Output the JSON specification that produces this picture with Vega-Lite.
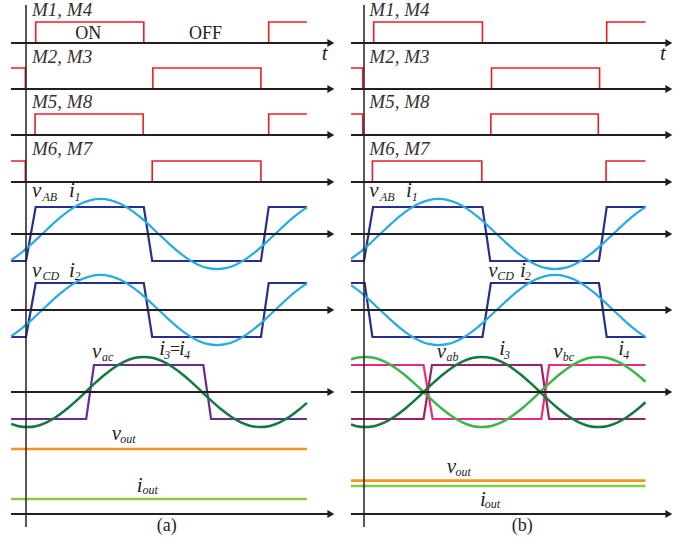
{
"$schema":"https://vega.github.io/schema/vega-lite/v6.json",
"background":"white","padding":0,"spacing":0,
"config":{"view":{"stroke":null}},
"datasets":{
"gates":[
{"p":"a","s":"M14","t":-23,"v":0},{"p":"a","s":"M14","t":15,"v":1},{"p":"a","s":"M14","t":182,"v":0},{"p":"a","s":"M14","t":375,"v":1},{"p":"a","s":"M14","t":434,"v":1},
{"p":"a","s":"M23","t":-23,"v":1},{"p":"a","s":"M23","t":-1,"v":0},{"p":"a","s":"M23","t":196,"v":1},{"p":"a","s":"M23","t":363,"v":0},{"p":"a","s":"M23","t":434,"v":0},
{"p":"a","s":"M58","t":-23,"v":0},{"p":"a","s":"M58","t":14,"v":1},{"p":"a","s":"M58","t":181,"v":0},{"p":"a","s":"M58","t":375,"v":1},{"p":"a","s":"M58","t":434,"v":1},
{"p":"a","s":"M67","t":-23,"v":1},{"p":"a","s":"M67","t":-1,"v":0},{"p":"a","s":"M67","t":195,"v":1},{"p":"a","s":"M67","t":363,"v":0},{"p":"a","s":"M67","t":434,"v":0},
{"p":"b","s":"M14","t":-20,"v":0},{"p":"b","s":"M14","t":15,"v":1},{"p":"b","s":"M14","t":183,"v":0},{"p":"b","s":"M14","t":375,"v":1},{"p":"b","s":"M14","t":435,"v":1},
{"p":"b","s":"M23","t":-20,"v":1},{"p":"b","s":"M23","t":-2,"v":0},{"p":"b","s":"M23","t":197,"v":1},{"p":"b","s":"M23","t":364,"v":0},{"p":"b","s":"M23","t":435,"v":0},
{"p":"b","s":"M58","t":-20,"v":1},{"p":"b","s":"M58","t":-2,"v":0},{"p":"b","s":"M58","t":196,"v":1},{"p":"b","s":"M58","t":362,"v":0},{"p":"b","s":"M58","t":435,"v":0},
{"p":"b","s":"M67","t":-20,"v":0},{"p":"b","s":"M67","t":13,"v":1},{"p":"b","s":"M67","t":182,"v":0},{"p":"b","s":"M67","t":374,"v":1},{"p":"b","s":"M67","t":435,"v":1}
],
"volts":[
{"p":"a","s":"vAB","t":-23,"v":-1},{"p":"a","s":"vAB","t":0,"v":-1},{"p":"a","s":"vAB","t":15,"v":1},{"p":"a","s":"vAB","t":182,"v":1},{"p":"a","s":"vAB","t":195,"v":-1},{"p":"a","s":"vAB","t":363,"v":-1},{"p":"a","s":"vAB","t":375,"v":1},{"p":"a","s":"vAB","t":434,"v":1},
{"p":"a","s":"vCD","t":-23,"v":-1},{"p":"a","s":"vCD","t":0,"v":-1},{"p":"a","s":"vCD","t":15,"v":1},{"p":"a","s":"vCD","t":182,"v":1},{"p":"a","s":"vCD","t":195,"v":-1},{"p":"a","s":"vCD","t":363,"v":-1},{"p":"a","s":"vCD","t":375,"v":1},{"p":"a","s":"vCD","t":434,"v":1},
{"p":"a","s":"vac","t":-23,"v":-1},{"p":"a","s":"vac","t":93,"v":-1},{"p":"a","s":"vac","t":105,"v":1},{"p":"a","s":"vac","t":274,"v":1},{"p":"a","s":"vac","t":286,"v":-1},{"p":"a","s":"vac","t":434,"v":-1},
{"p":"b","s":"vAB","t":-20,"v":-1},{"p":"b","s":"vAB","t":0,"v":-1},{"p":"b","s":"vAB","t":14,"v":1},{"p":"b","s":"vAB","t":183,"v":1},{"p":"b","s":"vAB","t":195,"v":-1},{"p":"b","s":"vAB","t":363,"v":-1},{"p":"b","s":"vAB","t":375,"v":1},{"p":"b","s":"vAB","t":435,"v":1},
{"p":"b","s":"vCD","t":-20,"v":1},{"p":"b","s":"vCD","t":1,"v":1},{"p":"b","s":"vCD","t":13,"v":-1},{"p":"b","s":"vCD","t":183,"v":-1},{"p":"b","s":"vCD","t":196,"v":1},{"p":"b","s":"vCD","t":363,"v":1},{"p":"b","s":"vCD","t":375,"v":-1},{"p":"b","s":"vCD","t":435,"v":-1},
{"p":"b","s":"vab","t":-20,"v":-1},{"p":"b","s":"vab","t":92,"v":-1},{"p":"b","s":"vab","t":105,"v":1},{"p":"b","s":"vab","t":274,"v":1},{"p":"b","s":"vab","t":286,"v":-1},{"p":"b","s":"vab","t":435,"v":-1},
{"p":"b","s":"vbc","t":-20,"v":1},{"p":"b","s":"vbc","t":92,"v":1},{"p":"b","s":"vbc","t":106,"v":-1},{"p":"b","s":"vbc","t":274,"v":-1},{"p":"b","s":"vbc","t":286,"v":1},{"p":"b","s":"vbc","t":435,"v":1}
],
"dc":[
{"p":"a","s":"vout","t":-23,"v":2.407},{"p":"a","s":"vout","t":434,"v":2.407},
{"p":"a","s":"iout","t":-23,"v":0.556},{"p":"a","s":"iout","t":434,"v":0.556},
{"p":"b","s":"vout","t":-20,"v":1.233},{"p":"b","s":"vout","t":435,"v":1.233},
{"p":"b","s":"iout","t":-20,"v":1.037},{"p":"b","s":"iout","t":435,"v":1.037}
],
"axes":[
{"p":"a","s":"h","t":-23.2,"v":0},{"p":"a","s":"h","t":471,"v":0},
{"p":"b","s":"h","t":-20.1,"v":0},{"p":"b","s":"h","t":471,"v":0}
],
"arrows":[{"t":471,"v":0}],
"vaxis":[{"t":0,"v":-0.481},{"t":0,"v":18.852}],
"currents":[
{"p":"a","s":"i1","t":-23,"v":-0.966},{"p":"a","s":"i1","t":-20,"v":-0.919},{"p":"a","s":"i1","t":-5,"v":-0.65},{"p":"a","s":"i1","t":10,"v":-0.337},{"p":"a","s":"i1","t":25,"v":0},{"p":"a","s":"i1","t":40,"v":0.337},{"p":"a","s":"i1","t":55,"v":0.65},{"p":"a","s":"i1","t":70,"v":0.919},{"p":"a","s":"i1","t":85,"v":1.126},{"p":"a","s":"i1","t":100,"v":1.256},{"p":"a","s":"i1","t":115,"v":1.3},{"p":"a","s":"i1","t":130,"v":1.256},{"p":"a","s":"i1","t":145,"v":1.126},{"p":"a","s":"i1","t":160,"v":0.919},{"p":"a","s":"i1","t":175,"v":0.65},{"p":"a","s":"i1","t":190,"v":0.337},{"p":"a","s":"i1","t":205,"v":0},{"p":"a","s":"i1","t":220,"v":-0.337},{"p":"a","s":"i1","t":235,"v":-0.65},{"p":"a","s":"i1","t":250,"v":-0.919},{"p":"a","s":"i1","t":265,"v":-1.126},{"p":"a","s":"i1","t":280,"v":-1.256},{"p":"a","s":"i1","t":295,"v":-1.3},{"p":"a","s":"i1","t":310,"v":-1.256},{"p":"a","s":"i1","t":325,"v":-1.126},{"p":"a","s":"i1","t":340,"v":-0.919},{"p":"a","s":"i1","t":355,"v":-0.65},{"p":"a","s":"i1","t":370,"v":-0.337},{"p":"a","s":"i1","t":385,"v":0},{"p":"a","s":"i1","t":400,"v":0.337},{"p":"a","s":"i1","t":415,"v":0.65},{"p":"a","s":"i1","t":430,"v":0.919},{"p":"a","s":"i1","t":434,"v":0.981},
{"p":"a","s":"i2","t":-23,"v":-0.966},{"p":"a","s":"i2","t":-20,"v":-0.919},{"p":"a","s":"i2","t":-5,"v":-0.65},{"p":"a","s":"i2","t":10,"v":-0.337},{"p":"a","s":"i2","t":25,"v":0},{"p":"a","s":"i2","t":40,"v":0.337},{"p":"a","s":"i2","t":55,"v":0.65},{"p":"a","s":"i2","t":70,"v":0.919},{"p":"a","s":"i2","t":85,"v":1.126},{"p":"a","s":"i2","t":100,"v":1.256},{"p":"a","s":"i2","t":115,"v":1.3},{"p":"a","s":"i2","t":130,"v":1.256},{"p":"a","s":"i2","t":145,"v":1.126},{"p":"a","s":"i2","t":160,"v":0.919},{"p":"a","s":"i2","t":175,"v":0.65},{"p":"a","s":"i2","t":190,"v":0.337},{"p":"a","s":"i2","t":205,"v":0},{"p":"a","s":"i2","t":220,"v":-0.337},{"p":"a","s":"i2","t":235,"v":-0.65},{"p":"a","s":"i2","t":250,"v":-0.919},{"p":"a","s":"i2","t":265,"v":-1.126},{"p":"a","s":"i2","t":280,"v":-1.256},{"p":"a","s":"i2","t":295,"v":-1.3},{"p":"a","s":"i2","t":310,"v":-1.256},{"p":"a","s":"i2","t":325,"v":-1.126},{"p":"a","s":"i2","t":340,"v":-0.919},{"p":"a","s":"i2","t":355,"v":-0.65},{"p":"a","s":"i2","t":370,"v":-0.337},{"p":"a","s":"i2","t":385,"v":0},{"p":"a","s":"i2","t":400,"v":0.337},{"p":"a","s":"i2","t":415,"v":0.65},{"p":"a","s":"i2","t":430,"v":0.919},{"p":"a","s":"i2","t":434,"v":0.981},
{"p":"a","s":"i3","t":-23,"v":-1.178},{"p":"a","s":"i3","t":-13,"v":-1.256},{"p":"a","s":"i3","t":2,"v":-1.3},{"p":"a","s":"i3","t":17,"v":-1.256},{"p":"a","s":"i3","t":32,"v":-1.126},{"p":"a","s":"i3","t":47,"v":-0.919},{"p":"a","s":"i3","t":62,"v":-0.65},{"p":"a","s":"i3","t":77,"v":-0.337},{"p":"a","s":"i3","t":92,"v":0},{"p":"a","s":"i3","t":107,"v":0.337},{"p":"a","s":"i3","t":122,"v":0.65},{"p":"a","s":"i3","t":137,"v":0.919},{"p":"a","s":"i3","t":152,"v":1.126},{"p":"a","s":"i3","t":167,"v":1.256},{"p":"a","s":"i3","t":182,"v":1.3},{"p":"a","s":"i3","t":197,"v":1.256},{"p":"a","s":"i3","t":212,"v":1.126},{"p":"a","s":"i3","t":227,"v":0.919},{"p":"a","s":"i3","t":242,"v":0.65},{"p":"a","s":"i3","t":257,"v":0.337},{"p":"a","s":"i3","t":272,"v":0},{"p":"a","s":"i3","t":287,"v":-0.337},{"p":"a","s":"i3","t":302,"v":-0.65},{"p":"a","s":"i3","t":317,"v":-0.919},{"p":"a","s":"i3","t":332,"v":-1.126},{"p":"a","s":"i3","t":347,"v":-1.256},{"p":"a","s":"i3","t":362,"v":-1.3},{"p":"a","s":"i3","t":377,"v":-1.256},{"p":"a","s":"i3","t":392,"v":-1.126},{"p":"a","s":"i3","t":407,"v":-0.919},{"p":"a","s":"i3","t":422,"v":-0.65},{"p":"a","s":"i3","t":434,"v":-0.402},
{"p":"b","s":"i1","t":-20,"v":-0.919},{"p":"b","s":"i1","t":-5,"v":-0.65},{"p":"b","s":"i1","t":10,"v":-0.337},{"p":"b","s":"i1","t":25,"v":0},{"p":"b","s":"i1","t":40,"v":0.337},{"p":"b","s":"i1","t":55,"v":0.65},{"p":"b","s":"i1","t":70,"v":0.919},{"p":"b","s":"i1","t":85,"v":1.126},{"p":"b","s":"i1","t":100,"v":1.256},{"p":"b","s":"i1","t":115,"v":1.3},{"p":"b","s":"i1","t":130,"v":1.256},{"p":"b","s":"i1","t":145,"v":1.126},{"p":"b","s":"i1","t":160,"v":0.919},{"p":"b","s":"i1","t":175,"v":0.65},{"p":"b","s":"i1","t":190,"v":0.337},{"p":"b","s":"i1","t":205,"v":0},{"p":"b","s":"i1","t":220,"v":-0.337},{"p":"b","s":"i1","t":235,"v":-0.65},{"p":"b","s":"i1","t":250,"v":-0.919},{"p":"b","s":"i1","t":265,"v":-1.126},{"p":"b","s":"i1","t":280,"v":-1.256},{"p":"b","s":"i1","t":295,"v":-1.3},{"p":"b","s":"i1","t":310,"v":-1.256},{"p":"b","s":"i1","t":325,"v":-1.126},{"p":"b","s":"i1","t":340,"v":-0.919},{"p":"b","s":"i1","t":355,"v":-0.65},{"p":"b","s":"i1","t":370,"v":-0.337},{"p":"b","s":"i1","t":385,"v":0},{"p":"b","s":"i1","t":400,"v":0.337},{"p":"b","s":"i1","t":415,"v":0.65},{"p":"b","s":"i1","t":430,"v":0.919},{"p":"b","s":"i1","t":435,"v":0.996},
{"p":"b","s":"i2","t":-20,"v":0.919},{"p":"b","s":"i2","t":-5,"v":0.65},{"p":"b","s":"i2","t":10,"v":0.337},{"p":"b","s":"i2","t":25,"v":0},{"p":"b","s":"i2","t":40,"v":-0.337},{"p":"b","s":"i2","t":55,"v":-0.65},{"p":"b","s":"i2","t":70,"v":-0.919},{"p":"b","s":"i2","t":85,"v":-1.126},{"p":"b","s":"i2","t":100,"v":-1.256},{"p":"b","s":"i2","t":115,"v":-1.3},{"p":"b","s":"i2","t":130,"v":-1.256},{"p":"b","s":"i2","t":145,"v":-1.126},{"p":"b","s":"i2","t":160,"v":-0.919},{"p":"b","s":"i2","t":175,"v":-0.65},{"p":"b","s":"i2","t":190,"v":-0.337},{"p":"b","s":"i2","t":205,"v":0},{"p":"b","s":"i2","t":220,"v":0.337},{"p":"b","s":"i2","t":235,"v":0.65},{"p":"b","s":"i2","t":250,"v":0.919},{"p":"b","s":"i2","t":265,"v":1.126},{"p":"b","s":"i2","t":280,"v":1.256},{"p":"b","s":"i2","t":295,"v":1.3},{"p":"b","s":"i2","t":310,"v":1.256},{"p":"b","s":"i2","t":325,"v":1.126},{"p":"b","s":"i2","t":340,"v":0.919},{"p":"b","s":"i2","t":355,"v":0.65},{"p":"b","s":"i2","t":370,"v":0.337},{"p":"b","s":"i2","t":385,"v":0},{"p":"b","s":"i2","t":400,"v":-0.337},{"p":"b","s":"i2","t":415,"v":-0.65},{"p":"b","s":"i2","t":430,"v":-0.919},{"p":"b","s":"i2","t":435,"v":-0.996},
{"p":"b","s":"i3","t":-20,"v":-1.205},{"p":"b","s":"i3","t":-13,"v":-1.256},{"p":"b","s":"i3","t":2,"v":-1.3},{"p":"b","s":"i3","t":17,"v":-1.256},{"p":"b","s":"i3","t":32,"v":-1.126},{"p":"b","s":"i3","t":47,"v":-0.919},{"p":"b","s":"i3","t":62,"v":-0.65},{"p":"b","s":"i3","t":77,"v":-0.337},{"p":"b","s":"i3","t":92,"v":0},{"p":"b","s":"i3","t":107,"v":0.337},{"p":"b","s":"i3","t":122,"v":0.65},{"p":"b","s":"i3","t":137,"v":0.919},{"p":"b","s":"i3","t":152,"v":1.126},{"p":"b","s":"i3","t":167,"v":1.256},{"p":"b","s":"i3","t":182,"v":1.3},{"p":"b","s":"i3","t":197,"v":1.256},{"p":"b","s":"i3","t":212,"v":1.126},{"p":"b","s":"i3","t":227,"v":0.919},{"p":"b","s":"i3","t":242,"v":0.65},{"p":"b","s":"i3","t":257,"v":0.337},{"p":"b","s":"i3","t":272,"v":0},{"p":"b","s":"i3","t":287,"v":-0.337},{"p":"b","s":"i3","t":302,"v":-0.65},{"p":"b","s":"i3","t":317,"v":-0.919},{"p":"b","s":"i3","t":332,"v":-1.126},{"p":"b","s":"i3","t":347,"v":-1.256},{"p":"b","s":"i3","t":362,"v":-1.3},{"p":"b","s":"i3","t":377,"v":-1.256},{"p":"b","s":"i3","t":392,"v":-1.126},{"p":"b","s":"i3","t":407,"v":-0.919},{"p":"b","s":"i3","t":422,"v":-0.65},{"p":"b","s":"i3","t":435,"v":-0.38},
{"p":"b","s":"i4","t":-20,"v":1.205},{"p":"b","s":"i4","t":-13,"v":1.256},{"p":"b","s":"i4","t":2,"v":1.3},{"p":"b","s":"i4","t":17,"v":1.256},{"p":"b","s":"i4","t":32,"v":1.126},{"p":"b","s":"i4","t":47,"v":0.919},{"p":"b","s":"i4","t":62,"v":0.65},{"p":"b","s":"i4","t":77,"v":0.337},{"p":"b","s":"i4","t":92,"v":0},{"p":"b","s":"i4","t":107,"v":-0.337},{"p":"b","s":"i4","t":122,"v":-0.65},{"p":"b","s":"i4","t":137,"v":-0.919},{"p":"b","s":"i4","t":152,"v":-1.126},{"p":"b","s":"i4","t":167,"v":-1.256},{"p":"b","s":"i4","t":182,"v":-1.3},{"p":"b","s":"i4","t":197,"v":-1.256},{"p":"b","s":"i4","t":212,"v":-1.126},{"p":"b","s":"i4","t":227,"v":-0.919},{"p":"b","s":"i4","t":242,"v":-0.65},{"p":"b","s":"i4","t":257,"v":-0.337},{"p":"b","s":"i4","t":272,"v":0},{"p":"b","s":"i4","t":287,"v":0.337},{"p":"b","s":"i4","t":302,"v":0.65},{"p":"b","s":"i4","t":317,"v":0.919},{"p":"b","s":"i4","t":332,"v":1.126},{"p":"b","s":"i4","t":347,"v":1.256},{"p":"b","s":"i4","t":362,"v":1.3},{"p":"b","s":"i4","t":377,"v":1.256},{"p":"b","s":"i4","t":392,"v":1.126},{"p":"b","s":"i4","t":407,"v":0.919},{"p":"b","s":"i4","t":422,"v":0.65},{"p":"b","s":"i4","t":435,"v":0.38}
],
"labels":[
{"p":"a","k":"g","t":9.3,"y":19.41,"txt":"M1, M4"},{"p":"a","k":"g","t":9.3,"y":17.68,"txt":"M2, M3"},{"p":"a","k":"g","t":9.3,"y":15.99,"txt":"M5, M8"},{"p":"a","k":"g","t":9.3,"y":14.26,"txt":"M6, M7"},
{"p":"a","k":"u","t":76.2,"y":18.54,"txt":"ON"},{"p":"a","k":"u","t":251.8,"y":18.54,"txt":"OFF"},{"p":"a","k":"m","t":456.9,"y":17.78,"txt":"t"},
{"p":"a","k":"m","t":9.3,"y":12.7,"txt":"v"},{"p":"a","k":"s","t":25.5,"y":12.57,"txt":"AB"},{"p":"a","k":"m","t":66.4,"y":12.7,"txt":"i"},{"p":"a","k":"s","t":74.9,"y":12.57,"txt":"1"},
{"p":"a","k":"m","t":9.3,"y":9.75,"txt":"v"},{"p":"a","k":"s","t":25.5,"y":9.63,"txt":"CD"},{"p":"a","k":"m","t":66.4,"y":9.75,"txt":"i"},{"p":"a","k":"s","t":74.9,"y":9.63,"txt":"2"},
{"p":"a","k":"m","t":102.0,"y":6.74,"txt":"v"},{"p":"a","k":"s","t":117.4,"y":6.63,"txt":"ac"},
{"p":"a","k":"m","t":206.0,"y":6.85,"txt":"i"},{"p":"a","k":"s","t":213.7,"y":6.7,"txt":"3"},{"p":"a","k":"u","t":222.5,"y":6.85,"txt":"="},{"p":"a","k":"m","t":236.5,"y":6.85,"txt":"i"},{"p":"a","k":"s","t":244.2,"y":6.7,"txt":"4"},
{"p":"a","k":"m","t":132.4,"y":3.7,"txt":"v"},{"p":"a","k":"s","t":145.5,"y":3.58,"txt":"out"},
{"p":"a","k":"m","t":171.0,"y":1.79,"txt":"i"},{"p":"a","k":"s","t":180.0,"y":1.7,"txt":"out"},
{"p":"a","k":"u","t":201.9,"y":0.33,"txt":"(a)"},
{"p":"b","k":"g","t":8.2,"y":19.41,"txt":"M1, M4"},{"p":"b","k":"g","t":8.2,"y":17.68,"txt":"M2, M3"},{"p":"b","k":"g","t":8.2,"y":15.99,"txt":"M5, M8"},{"p":"b","k":"g","t":8.2,"y":14.26,"txt":"M6, M7"},
{"p":"b","k":"m","t":457.3,"y":17.78,"txt":"t"},
{"p":"b","k":"m","t":8.2,"y":12.7,"txt":"v"},{"p":"b","k":"s","t":24.7,"y":12.57,"txt":"AB"},{"p":"b","k":"m","t":64.9,"y":12.7,"txt":"i"},{"p":"b","k":"s","t":73.7,"y":12.57,"txt":"1"},
{"p":"b","k":"m","t":192.1,"y":9.75,"txt":"v"},{"p":"b","k":"s","t":206.0,"y":9.63,"txt":"CD"},{"p":"b","k":"m","t":241.0,"y":9.75,"txt":"i"},{"p":"b","k":"s","t":248.2,"y":9.63,"txt":"2"},
{"p":"b","k":"m","t":112.3,"y":6.73,"txt":"v"},{"p":"b","k":"s","t":127.5,"y":6.63,"txt":"ab"},{"p":"b","k":"m","t":209.1,"y":6.85,"txt":"i"},{"p":"b","k":"s","t":216.3,"y":6.7,"txt":"3"},
{"p":"b","k":"m","t":292.5,"y":6.73,"txt":"v"},{"p":"b","k":"s","t":307.0,"y":6.63,"txt":"bc"},{"p":"b","k":"m","t":393.0,"y":6.85,"txt":"i"},{"p":"b","k":"s","t":400.6,"y":6.7,"txt":"4"},
{"p":"b","k":"m","t":127.8,"y":2.47,"txt":"v"},{"p":"b","k":"s","t":141.5,"y":2.37,"txt":"out"},
{"p":"b","k":"m","t":179.2,"y":1.26,"txt":"i"},{"p":"b","k":"s","t":186.4,"y":1.17,"txt":"out"},
{"p":"b","k":"u","t":228.2,"y":0.33,"txt":"(b)"}
]
},
"hconcat":[
{
"width":338,"height":540,
"encoding":{"x":{"field":"t","type":"quantitative","scale":{"domain":[-40.17,482.06],"nice":false,"zero":false},"axis":null}},
"layer":[
{"encoding":{"y":{"field":"v","type":"quantitative","scale":{"domain":[-23.667,2.0476],"nice":false,"zero":false},"axis":null}},
"layer":[
{"data":{"name":"gates"},"transform":[{"filter":"datum.p=='a'&&datum.s=='M14'"}],"mark":{"type":"line","interpolate":"step-after","color":"#ED1C24","strokeWidth":1.6}},
{"data":{"name":"axes"},"transform":[{"filter":"datum.p=='a'"}],"mark":{"type":"line","color":"#231F20","strokeWidth":2}},
{"data":{"name":"arrows"},"mark":{"type":"point","shape":"triangle-right","filled":true,"size":64,"color":"#231F20","opacity":1}}
]},
{"encoding":{"y":{"field":"v","type":"quantitative","scale":{"domain":[-21.476,4.2381],"nice":false,"zero":false},"axis":null}},
"layer":[
{"data":{"name":"gates"},"transform":[{"filter":"datum.p=='a'&&datum.s=='M23'"}],"mark":{"type":"line","interpolate":"step-after","color":"#ED1C24","strokeWidth":1.6}},
{"data":{"name":"axes"},"transform":[{"filter":"datum.p=='a'"}],"mark":{"type":"line","color":"#231F20","strokeWidth":2}},
{"data":{"name":"arrows"},"mark":{"type":"point","shape":"triangle-right","filled":true,"size":64,"color":"#231F20","opacity":1}}
]},
{"encoding":{"y":{"field":"v","type":"quantitative","scale":{"domain":[-19.286,6.4286],"nice":false,"zero":false},"axis":null}},
"layer":[
{"data":{"name":"gates"},"transform":[{"filter":"datum.p=='a'&&datum.s=='M58'"}],"mark":{"type":"line","interpolate":"step-after","color":"#ED1C24","strokeWidth":1.6}},
{"data":{"name":"axes"},"transform":[{"filter":"datum.p=='a'"}],"mark":{"type":"line","color":"#231F20","strokeWidth":2}},
{"data":{"name":"arrows"},"mark":{"type":"point","shape":"triangle-right","filled":true,"size":64,"color":"#231F20","opacity":1}}
]},
{"encoding":{"y":{"field":"v","type":"quantitative","scale":{"domain":[-17.048,8.6667],"nice":false,"zero":false},"axis":null}},
"layer":[
{"data":{"name":"gates"},"transform":[{"filter":"datum.p=='a'&&datum.s=='M67'"}],"mark":{"type":"line","interpolate":"step-after","color":"#ED1C24","strokeWidth":1.6}},
{"data":{"name":"axes"},"transform":[{"filter":"datum.p=='a'"}],"mark":{"type":"line","color":"#231F20","strokeWidth":2}},
{"data":{"name":"arrows"},"mark":{"type":"point","shape":"triangle-right","filled":true,"size":64,"color":"#231F20","opacity":1}}
]},
{"encoding":{"y":{"field":"v","type":"quantitative","scale":{"domain":[-11.333,8.6667],"nice":false,"zero":false},"axis":null}},
"layer":[
{"data":{"name":"volts"},"transform":[{"filter":"datum.p=='a'&&datum.s=='vAB'"}],"mark":{"type":"line","color":"#262F8D","strokeWidth":2.2}},
{"data":{"name":"currents"},"transform":[{"filter":"datum.p=='a'&&datum.s=='i1'"}],"mark":{"type":"line","interpolate":"monotone","color":"#29ABE2","strokeWidth":2.2}},
{"data":{"name":"axes"},"transform":[{"filter":"datum.p=='a'"}],"mark":{"type":"line","color":"#231F20","strokeWidth":2}},
{"data":{"name":"arrows"},"mark":{"type":"point","shape":"triangle-right","filled":true,"size":64,"color":"#231F20","opacity":1}}
]},
{"encoding":{"y":{"field":"v","type":"quantitative","scale":{"domain":[-8.5185,11.4815],"nice":false,"zero":false},"axis":null}},
"layer":[
{"data":{"name":"volts"},"transform":[{"filter":"datum.p=='a'&&datum.s=='vCD'"}],"mark":{"type":"line","color":"#262F8D","strokeWidth":2.2}},
{"data":{"name":"currents"},"transform":[{"filter":"datum.p=='a'&&datum.s=='i2'"}],"mark":{"type":"line","interpolate":"monotone","color":"#29ABE2","strokeWidth":2.2}},
{"data":{"name":"axes"},"transform":[{"filter":"datum.p=='a'"}],"mark":{"type":"line","color":"#231F20","strokeWidth":2}},
{"data":{"name":"arrows"},"mark":{"type":"point","shape":"triangle-right","filled":true,"size":64,"color":"#231F20","opacity":1}}
]},
{"encoding":{"y":{"field":"v","type":"quantitative","scale":{"domain":[-5.4815,14.5185],"nice":false,"zero":false},"axis":null}},
"layer":[
{"data":{"name":"volts"},"transform":[{"filter":"datum.p=='a'&&datum.s=='vac'"}],"mark":{"type":"line","color":"#662D91","strokeWidth":2.2}},
{"data":{"name":"currents"},"transform":[{"filter":"datum.p=='a'&&datum.s=='i3'"}],"mark":{"type":"line","interpolate":"monotone","color":"#137A3F","strokeWidth":2.5}},
{"data":{"name":"axes"},"transform":[{"filter":"datum.p=='a'"}],"mark":{"type":"line","color":"#231F20","strokeWidth":2}},
{"data":{"name":"arrows"},"mark":{"type":"point","shape":"triangle-right","filled":true,"size":64,"color":"#231F20","opacity":1}}
]},
{"encoding":{"y":{"field":"v","type":"quantitative","scale":{"domain":[-0.96296,19.037],"nice":false,"zero":false},"axis":null}},
"layer":[
{"data":{"name":"dc"},"transform":[{"filter":"datum.p=='a'&&datum.s=='vout'"}],"mark":{"type":"line","color":"#F7941D","strokeWidth":2.7}},
{"data":{"name":"dc"},"transform":[{"filter":"datum.p=='a'&&datum.s=='iout'"}],"mark":{"type":"line","color":"#8DC63F","strokeWidth":2.7}},
{"data":{"name":"axes"},"transform":[{"filter":"datum.p=='a'"}],"mark":{"type":"line","color":"#231F20","strokeWidth":2}},
{"data":{"name":"arrows"},"mark":{"type":"point","shape":"triangle-right","filled":true,"size":64,"color":"#231F20","opacity":1}},
{"data":{"name":"vaxis"},"mark":{"type":"line","color":"#231F20","strokeWidth":1.5}}
]},
{"data":{"name":"labels"},"transform":[{"filter":"datum.p=='a'"}],
"encoding":{"y":{"field":"y","type":"quantitative","scale":{"domain":[0,20],"nice":false,"zero":false},"axis":null},"text":{"field":"txt"}},
"layer":[
{"transform":[{"filter":"datum.k=='m'"}],"mark":{"type":"text","font":"Liberation Serif","fontStyle":"italic","fontSize":21,"align":"left","baseline":"alphabetic","color":"#231F20"}},
{"transform":[{"filter":"datum.k=='s'"}],"mark":{"type":"text","font":"Liberation Serif","fontStyle":"italic","fontSize":12,"align":"left","baseline":"alphabetic","color":"#231F20"}},
{"transform":[{"filter":"datum.k=='g'"}],"mark":{"type":"text","font":"Liberation Serif","fontStyle":"italic","fontSize":19,"align":"left","baseline":"alphabetic","color":"#333333"}},
{"transform":[{"filter":"datum.k=='u'"}],"mark":{"type":"text","font":"Liberation Serif","fontSize":18,"align":"left","baseline":"alphabetic","color":"#231F20"}}
]}
],
"resolve":{"scale":{"y":"independent"}}
},
{
"width":356,"height":540,
"encoding":{"x":{"field":"t","type":"quantitative","scale":{"domain":[-40.17,509.87],"nice":false,"zero":false},"axis":null}},
"layer":[
{"encoding":{"y":{"field":"v","type":"quantitative","scale":{"domain":[-23.667,2.0476],"nice":false,"zero":false},"axis":null}},
"layer":[
{"data":{"name":"gates"},"transform":[{"filter":"datum.p=='b'&&datum.s=='M14'"}],"mark":{"type":"line","interpolate":"step-after","color":"#ED1C24","strokeWidth":1.6}},
{"data":{"name":"axes"},"transform":[{"filter":"datum.p=='b'"}],"mark":{"type":"line","color":"#231F20","strokeWidth":2}},
{"data":{"name":"arrows"},"mark":{"type":"point","shape":"triangle-right","filled":true,"size":64,"color":"#231F20","opacity":1}}
]},
{"encoding":{"y":{"field":"v","type":"quantitative","scale":{"domain":[-21.476,4.2381],"nice":false,"zero":false},"axis":null}},
"layer":[
{"data":{"name":"gates"},"transform":[{"filter":"datum.p=='b'&&datum.s=='M23'"}],"mark":{"type":"line","interpolate":"step-after","color":"#ED1C24","strokeWidth":1.6}},
{"data":{"name":"axes"},"transform":[{"filter":"datum.p=='b'"}],"mark":{"type":"line","color":"#231F20","strokeWidth":2}},
{"data":{"name":"arrows"},"mark":{"type":"point","shape":"triangle-right","filled":true,"size":64,"color":"#231F20","opacity":1}}
]},
{"encoding":{"y":{"field":"v","type":"quantitative","scale":{"domain":[-19.286,6.4286],"nice":false,"zero":false},"axis":null}},
"layer":[
{"data":{"name":"gates"},"transform":[{"filter":"datum.p=='b'&&datum.s=='M58'"}],"mark":{"type":"line","interpolate":"step-after","color":"#ED1C24","strokeWidth":1.6}},
{"data":{"name":"axes"},"transform":[{"filter":"datum.p=='b'"}],"mark":{"type":"line","color":"#231F20","strokeWidth":2}},
{"data":{"name":"arrows"},"mark":{"type":"point","shape":"triangle-right","filled":true,"size":64,"color":"#231F20","opacity":1}}
]},
{"encoding":{"y":{"field":"v","type":"quantitative","scale":{"domain":[-17.048,8.6667],"nice":false,"zero":false},"axis":null}},
"layer":[
{"data":{"name":"gates"},"transform":[{"filter":"datum.p=='b'&&datum.s=='M67'"}],"mark":{"type":"line","interpolate":"step-after","color":"#ED1C24","strokeWidth":1.6}},
{"data":{"name":"axes"},"transform":[{"filter":"datum.p=='b'"}],"mark":{"type":"line","color":"#231F20","strokeWidth":2}},
{"data":{"name":"arrows"},"mark":{"type":"point","shape":"triangle-right","filled":true,"size":64,"color":"#231F20","opacity":1}}
]},
{"encoding":{"y":{"field":"v","type":"quantitative","scale":{"domain":[-11.333,8.6667],"nice":false,"zero":false},"axis":null}},
"layer":[
{"data":{"name":"volts"},"transform":[{"filter":"datum.p=='b'&&datum.s=='vAB'"}],"mark":{"type":"line","color":"#262F8D","strokeWidth":2.2}},
{"data":{"name":"currents"},"transform":[{"filter":"datum.p=='b'&&datum.s=='i1'"}],"mark":{"type":"line","interpolate":"monotone","color":"#29ABE2","strokeWidth":2.2}},
{"data":{"name":"axes"},"transform":[{"filter":"datum.p=='b'"}],"mark":{"type":"line","color":"#231F20","strokeWidth":2}},
{"data":{"name":"arrows"},"mark":{"type":"point","shape":"triangle-right","filled":true,"size":64,"color":"#231F20","opacity":1}}
]},
{"encoding":{"y":{"field":"v","type":"quantitative","scale":{"domain":[-8.5185,11.4815],"nice":false,"zero":false},"axis":null}},
"layer":[
{"data":{"name":"volts"},"transform":[{"filter":"datum.p=='b'&&datum.s=='vCD'"}],"mark":{"type":"line","color":"#262F8D","strokeWidth":2.2}},
{"data":{"name":"currents"},"transform":[{"filter":"datum.p=='b'&&datum.s=='i2'"}],"mark":{"type":"line","interpolate":"monotone","color":"#29ABE2","strokeWidth":2.2}},
{"data":{"name":"axes"},"transform":[{"filter":"datum.p=='b'"}],"mark":{"type":"line","color":"#231F20","strokeWidth":2}},
{"data":{"name":"arrows"},"mark":{"type":"point","shape":"triangle-right","filled":true,"size":64,"color":"#231F20","opacity":1}}
]},
{"encoding":{"y":{"field":"v","type":"quantitative","scale":{"domain":[-5.4815,14.5185],"nice":false,"zero":false},"axis":null}},
"layer":[
{"data":{"name":"volts"},"transform":[{"filter":"datum.p=='b'&&datum.s=='vab'"}],"mark":{"type":"line","color":"#9E1F63","strokeWidth":2.2}},
{"data":{"name":"volts"},"transform":[{"filter":"datum.p=='b'&&datum.s=='vbc'"}],"mark":{"type":"line","color":"#EC297B","strokeWidth":2.2}},
{"data":{"name":"currents"},"transform":[{"filter":"datum.p=='b'&&datum.s=='i4'"}],"mark":{"type":"line","interpolate":"monotone","color":"#3DB54A","strokeWidth":2.5}},
{"data":{"name":"currents"},"transform":[{"filter":"datum.p=='b'&&datum.s=='i3'"}],"mark":{"type":"line","interpolate":"monotone","color":"#137A3F","strokeWidth":2.5}},
{"data":{"name":"axes"},"transform":[{"filter":"datum.p=='b'"}],"mark":{"type":"line","color":"#231F20","strokeWidth":2}},
{"data":{"name":"arrows"},"mark":{"type":"point","shape":"triangle-right","filled":true,"size":64,"color":"#231F20","opacity":1}}
]},
{"encoding":{"y":{"field":"v","type":"quantitative","scale":{"domain":[-0.96296,19.037],"nice":false,"zero":false},"axis":null}},
"layer":[
{"data":{"name":"dc"},"transform":[{"filter":"datum.p=='b'&&datum.s=='vout'"}],"mark":{"type":"line","color":"#F7941D","strokeWidth":2.7}},
{"data":{"name":"dc"},"transform":[{"filter":"datum.p=='b'&&datum.s=='iout'"}],"mark":{"type":"line","color":"#8DC63F","strokeWidth":2.7}},
{"data":{"name":"axes"},"transform":[{"filter":"datum.p=='b'"}],"mark":{"type":"line","color":"#231F20","strokeWidth":2}},
{"data":{"name":"arrows"},"mark":{"type":"point","shape":"triangle-right","filled":true,"size":64,"color":"#231F20","opacity":1}},
{"data":{"name":"vaxis"},"mark":{"type":"line","color":"#231F20","strokeWidth":1.5}}
]},
{"data":{"name":"labels"},"transform":[{"filter":"datum.p=='b'"}],
"encoding":{"y":{"field":"y","type":"quantitative","scale":{"domain":[0,20],"nice":false,"zero":false},"axis":null},"text":{"field":"txt"}},
"layer":[
{"transform":[{"filter":"datum.k=='m'"}],"mark":{"type":"text","font":"Liberation Serif","fontStyle":"italic","fontSize":21,"align":"left","baseline":"alphabetic","color":"#231F20"}},
{"transform":[{"filter":"datum.k=='s'"}],"mark":{"type":"text","font":"Liberation Serif","fontStyle":"italic","fontSize":12,"align":"left","baseline":"alphabetic","color":"#231F20"}},
{"transform":[{"filter":"datum.k=='g'"}],"mark":{"type":"text","font":"Liberation Serif","fontStyle":"italic","fontSize":19,"align":"left","baseline":"alphabetic","color":"#333333"}},
{"transform":[{"filter":"datum.k=='u'"}],"mark":{"type":"text","font":"Liberation Serif","fontSize":18,"align":"left","baseline":"alphabetic","color":"#231F20"}}
]}
],
"resolve":{"scale":{"y":"independent"}}
}
]
}
